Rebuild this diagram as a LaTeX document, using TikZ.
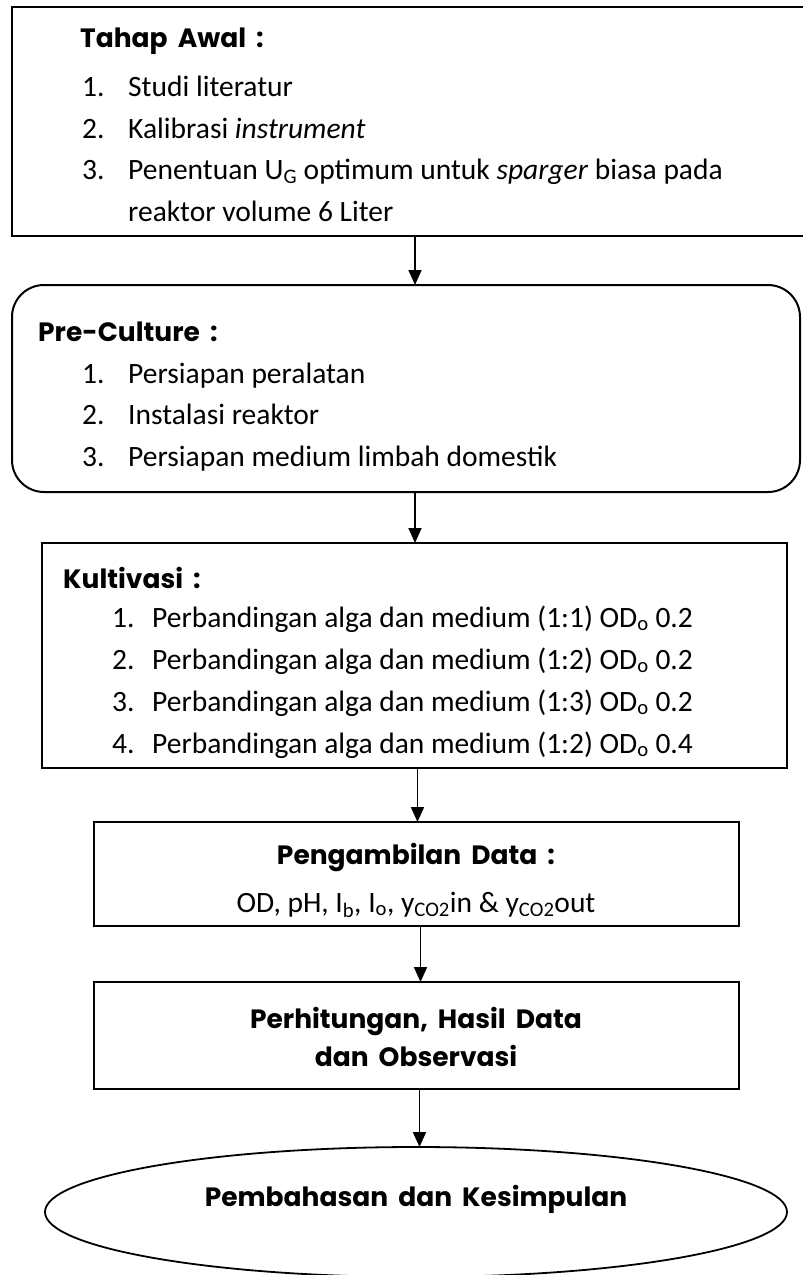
\documentclass[tikz,border=0pt]{standalone}
\usepackage{fontspec}
\setmainfont{Carlito}
\newfontfamily\headfont{Poppins}[WordSpace=1.8]
\usetikzlibrary{arrows.meta}
\usetikzlibrary{shapes.geometric}
\usetikzlibrary{positioning}

\begin{document}
\begin{tikzpicture}[x=1pt, y=-1pt,
  stageBox/.style={draw, line width=2pt, inner sep=0pt, outer sep=0pt},
  flowArrow/.style={line width=1.7pt, arrows={-Triangle[length=15pt,width=13pt]}},
  headText/.style={inner sep=0pt, anchor=base west, font=\headfont\bfseries\fontsize{26.5}{30}\selectfont},
  itemText/.style={inner sep=0pt, anchor=base west, font=\fontsize{29.5}{35}\selectfont}]

% page frame
\useasboundingbox (0,0) rectangle (803,1275);

\def \xNum  {82}
\def \xItem {128}
\def \xNumK  {112}
\def \xItemK {152}
\def \xMid {416}

% Tahap Awal box
\node[stageBox, minimum width=806pt, minimum height=229pt] (tahapBox) at (415,121.5) {};
\node[headText] (tahapHead) at (80,47) {Tahap Awal :};
\node[itemText] (tahapNumA) at (\xNum,96) {1.};
\node[itemText] (tahapItemA) at (\xItem,96) {Studi literatur};
\node[itemText] (tahapNumB) at (\xNum,138) {2.};
\node[itemText] (tahapItemB) at (\xItem,138) {Kalibrasi \textit{instrument}};
\node[itemText] (tahapNumC) at (\xNum,179) {3.};
\node[itemText] (tahapItemC) at (\xItem,179) {Penentuan U\textsubscript{G} optimum untuk \textit{sparger} biasa pada};
\node[itemText] (tahapItemD) at (\xItem,221) {reaktor volume 6 Liter};

% Pre-Culture box
\node[stageBox, rounded corners=32pt, minimum width=788pt, minimum height=207pt] (preBox) at (406,388.5) {};
\node[headText] (preHead) at (38,341) {Pre-Culture :};
\node[itemText] (preNumA) at (\xNum,383) {1.};
\node[itemText] (preItemA) at (\xItem,383) {Persiapan peralatan};
\node[itemText] (preNumB) at (\xNum,424) {2.};
\node[itemText] (preItemB) at (\xItem,424) {Instalasi reaktor};
\node[itemText] (preNumC) at (\xNum,466) {3.};
\node[itemText] (preItemC) at (\xItem,466) {Persiapan medium limbah domestik};

% Kultivasi box
\node[stageBox, line width=2.4pt, minimum width=745pt, minimum height=225pt] (kultBox) at (414.5,655.5) {};
\node[headText] (kultHead) at (63,588) {Kultivasi :};
\node[itemText] (kultNumA) at (\xNumK,627) {1.};
\node[itemText] (kultItemA) at (\xItemK,627) {Perbandingan alga dan medium (1:1) OD\textsubscript{o} 0.2};
\node[itemText] (kultNumB) at (\xNumK,669) {2.};
\node[itemText] (kultItemB) at (\xItemK,669) {Perbandingan alga dan medium (1:2) OD\textsubscript{o} 0.2};
\node[itemText] (kultNumC) at (\xNumK,711) {3.};
\node[itemText] (kultItemC) at (\xItemK,711) {Perbandingan alga dan medium (1:3) OD\textsubscript{o} 0.2};
\node[itemText] (kultNumD) at (\xNumK,753) {4.};
\node[itemText] (kultItemD) at (\xItemK,753) {Perbandingan alga dan medium (1:2) OD\textsubscript{o} 0.4};

% Pengambilan Data box
\node[stageBox, minimum width=645pt, minimum height=104pt] (dataBox) at (416.5,874) {};
\node[headText, anchor=base] (dataHead) at (\xMid,864) {Pengambilan Data :};
\node[itemText, anchor=base] (dataItem) at (\xMid,912)
  {OD, pH, I\textsubscript{b}, I\textsubscript{o}, y\textsubscript{CO2}in \& y\textsubscript{CO2}out};

% Perhitungan box
\node[stageBox, minimum width=645pt, minimum height=107pt] (hitungBox) at (416.5,1035.5) {};
\node[headText, anchor=base] (hitungHeadA) at (\xMid,1028) {Perhitungan, Hasil Data};
\node[headText, anchor=base] (hitungHeadB) at (\xMid,1066) {dan Observasi};

% final ellipse
\node[draw, ellipse, line width=1.8pt, inner sep=0pt, outer sep=0pt,
      minimum width=742pt, minimum height=130pt] (bahasEllipse) at (\xMid,1212) {};
\node[headText, anchor=base] (bahasText) at (\xMid,1206) {Pembahasan dan Kesimpulan};

% arrows between stages
\draw[flowArrow] (tahapBox.south) -- (tahapBox.south |- preBox.north);
\draw[flowArrow] ([xshift=9pt]preBox.south) -- ([xshift=9pt]preBox.south |- kultBox.north);
\draw[flowArrow] ([xshift=3pt]kultBox.south) -- ([xshift=3pt]kultBox.south |- dataBox.north);
\draw[flowArrow] ([xshift=4pt]dataBox.south) -- ([xshift=4pt]dataBox.south |- hitungBox.north);
\draw[flowArrow] ([xshift=3pt]hitungBox.south) -- ([xshift=3pt]hitungBox.south |- bahasEllipse.north);

\end{tikzpicture}
\end{document}
